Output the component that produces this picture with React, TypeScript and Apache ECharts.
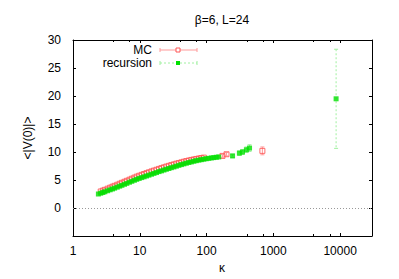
import React, { useEffect, useRef } from "react";
import * as echarts from "echarts";

const titleText = "β=6, L=24";
const yLabel = "<|V(0)|>";
const xLabel = "κ";
const legendNames = ["MC", "recursion"];

// MC (dense part, errors below visible size)
const mcK = [2.6, 2.8, 3.0, 3.3, 3.6, 3.9, 4.2, 4.6, 5.0, 5.4, 5.9, 6.4, 7.0, 7.6, 8.3, 9.0, 9.8, 10.7, 11.6, 12.6, 13.7, 15.0, 16.3, 17.8, 19.4, 21.1, 23.0, 25.0, 27.3, 29.7, 32.4, 35.3, 38.5, 42.0, 45.7, 49.8, 54.3, 59.2, 64.5, 70.3, 76.6, 83.5, 91.0];
const mcV = [2.95, 3.1, 3.25, 3.45, 3.63, 3.8, 3.96, 4.15, 4.33, 4.5, 4.68, 4.86, 5.05, 5.23, 5.42, 5.6, 5.76, 5.92, 6.07, 6.22, 6.37, 6.53, 6.68, 6.83, 6.98, 7.12, 7.26, 7.4, 7.53, 7.66, 7.79, 7.92, 8.04, 8.15, 8.27, 8.38, 8.48, 8.58, 8.67, 8.76, 8.84, 8.92, 9.0];
// MC (sparse tail with visible error bars)
const mcTailK = [173, 199, 685];
const mcTailV = [9.3, 9.6, 10.2];
const mcTailErr = [0.25, 0.3, 0.7];

// recursion (dense part)
const recK = [2.4, 2.6, 2.8, 3.0, 3.3, 3.6, 3.9, 4.2, 4.6, 5.0, 5.4, 5.9, 6.4, 7.0, 7.6, 8.3, 9.0, 9.8, 10.7, 11.6, 12.6, 13.7, 15.0, 16.3, 17.8, 19.4, 21.1, 23.0, 25.0, 27.3, 29.7, 32.4, 35.3, 38.5, 42.0, 45.7, 49.8, 54.3, 59.2, 64.5, 70.3, 76.6, 83.5, 91.0, 99.2, 108, 118, 128, 140, 152];
const recV = [2.5, 2.64, 2.77, 2.9, 3.08, 3.25, 3.4, 3.55, 3.72, 3.9, 4.05, 4.23, 4.4, 4.6, 4.77, 4.95, 5.12, 5.28, 5.43, 5.57, 5.72, 5.87, 6.03, 6.18, 6.33, 6.5, 6.63, 6.78, 6.92, 7.05, 7.2, 7.33, 7.47, 7.62, 7.75, 7.88, 8.0, 8.12, 8.23, 8.35, 8.45, 8.55, 8.63, 8.72, 8.8, 8.87, 8.94, 9.0, 9.06, 9.12];
// recursion (sparse tail)
const recTailK = [245, 310, 345, 395, 440, 8700];
const recTailV = [9.3, 9.8, 10.0, 10.4, 10.7, 19.5];
const recTailErr = [0.3, 0.4, 0.45, 0.5, 0.6, 8.85];

const yTicks = [-5, 0, 5, 10, 15, 20, 25, 30];

const RED = "#ff5555";
const RED_ERR = "#ff9a9a";
const GREEN = "#00e000";
const GREEN_ERR = "#a0f0a0";
const FONT = "Liberation Sans, Arial, sans-serif";

function errorBarRenderer(color: string, dashed: boolean) {
  return (params: any, api: any) => {
    const x = api.value(0);
    const y = api.value(1);
    const e = api.value(2);
    const hi = api.coord([x, y + e]);
    const lo = api.coord([x, y - e]);
    const style = { stroke: color, lineWidth: 1, lineDash: dashed ? [2, 2] : null };
    return {
      type: "group",
      children: [
        { type: "line", shape: { x1: hi[0], y1: hi[1], x2: lo[0], y2: lo[1] }, style },
        { type: "line", shape: { x1: hi[0] - 2, y1: hi[1], x2: hi[0] + 2, y2: hi[1] }, style: { stroke: color, lineWidth: 1 } },
        { type: "line", shape: { x1: lo[0] - 2, y1: lo[1], x2: lo[0] + 2, y2: lo[1] }, style: { stroke: color, lineWidth: 1 } },
      ],
    };
  };
}

export default function App() {
  const ref = useRef<HTMLDivElement>(null);
  useEffect(() => {
    if (!ref.current) return;
    const chart = echarts.init(ref.current, null, { renderer: "svg" });
    const mcDense = mcK.map((k, i) => [k, mcV[i]]);
    const mcTail = mcTailK.map((k, i) => [k, mcTailV[i], mcTailErr[i]]);
    const recDense = recK.map((k, i) => [k, recV[i]]);
    const recTail = recTailK.map((k, i) => [k, recTailV[i], recTailErr[i]]);

    const gl = { left: 73, top: 40, width: 299, height: 196 };
    const xBase = {
      type: "log",
      logBase: 10,
      min: 1,
      max: 30000,
      gridIndex: 0,
      splitLine: { show: false },
      axisLine: { show: true, onZero: false, lineStyle: { color: "#000", width: 1 } },
      axisTick: { show: true, inside: true, length: 3, lineStyle: { color: "#000" } },
      minorTick: { show: true, splitNumber: 3, length: 2, lineStyle: { color: "#000" } },
    };
    const yBase = {
      type: "value",
      min: -5,
      max: 30,
      interval: 5,
      splitLine: { show: false },
      axisLine: { show: true, onZero: false, lineStyle: { color: "#000", width: 1 } },
      axisTick: { show: true, inside: true, length: 3, lineStyle: { color: "#000" } },
    };

    chart.setOption({
      animation: false,
      backgroundColor: "#fff",
      textStyle: { fontFamily: FONT },
      grid: { ...gl, containLabel: false },
      xAxis: [
        {
          ...xBase,
          position: "bottom",
          axisLabel: {
            show: true,
            color: "#000",
            fontSize: 12,
            fontFamily: FONT,
            margin: 9,
            showMaxLabel: false,
            formatter: (v: number) => String(Math.round(v)),
          },
        },
        { ...xBase, position: "top", axisLabel: { show: false } },
      ],
      yAxis: [
        {
          ...yBase,
          position: "left",
          axisLabel: {
            show: true,
            color: "#000",
            fontSize: 12,
            fontFamily: FONT,
            margin: 12,
            formatter: (v: number) => (yTicks.indexOf(v) > 0 ? String(v) : ""),
          },
        },
        { ...yBase, position: "right", axisLabel: { show: false } },
      ],
      series: [
        {
          type: "line",
          data: [],
          markLine: {
            silent: true,
            symbol: "none",
            label: { show: false },
            lineStyle: { color: "#999", type: [1, 2], width: 1 },
            data: [{ yAxis: 0 }],
          },
        },
        {
          type: "custom",
          renderItem: errorBarRenderer(RED_ERR, false),
          data: mcTail,
          encode: { x: 0, y: 1 },
          z: 1,
        },
        {
          type: "custom",
          renderItem: errorBarRenderer(GREEN_ERR, true),
          data: recTail,
          encode: { x: 0, y: 1 },
          z: 1,
        },
        {
          type: "scatter",
          name: legendNames[0],
          symbol: "rect",
          symbolSize: 5,
          itemStyle: { color: "rgba(255,255,255,0)", borderColor: RED, borderWidth: 1, opacity: 0.85 },
          data: [...mcDense, ...mcTail.map((d) => [d[0], d[1]])],
          z: 3,
        },
        {
          type: "scatter",
          name: legendNames[1],
          symbol: "rect",
          symbolSize: 5,
          itemStyle: { color: GREEN },
          data: [...recDense, ...recTail.map((d) => [d[0], d[1]])],
          z: 4,
        },
      ],
      graphic: [
        {
          type: "text",
          x: 222,
          y: 20,
          style: { text: titleText, fill: "#000", font: `12px ${FONT}`, textAlign: "center", textVerticalAlign: "middle" },
        },
        {
          type: "text",
          x: 28,
          y: 138,
          rotation: Math.PI / 2,
          style: { text: yLabel, fill: "#000", font: `12px ${FONT}`, textAlign: "center", textVerticalAlign: "middle" },
        },
        {
          type: "text",
          x: 222,
          y: 268,
          style: { text: xLabel, fill: "#000", font: `12px ${FONT}`, textAlign: "center", textVerticalAlign: "middle" },
        },
        // legend: MC
        {
          type: "text",
          x: 152,
          y: 50,
          style: { text: legendNames[0], fill: "#000", font: `12px ${FONT}`, textAlign: "right", textVerticalAlign: "middle" },
        },
        { type: "line", shape: { x1: 160, y1: 50, x2: 197, y2: 50 }, style: { stroke: RED_ERR, lineWidth: 1 } },
        { type: "line", shape: { x1: 160, y1: 48, x2: 160, y2: 52 }, style: { stroke: RED_ERR, lineWidth: 1 } },
        { type: "line", shape: { x1: 197, y1: 48, x2: 197, y2: 52 }, style: { stroke: RED_ERR, lineWidth: 1 } },
        { type: "rect", shape: { x: 176, y: 48, width: 4, height: 4 }, style: { fill: "#fff", stroke: RED, lineWidth: 1 } },
        // legend: recursion
        {
          type: "text",
          x: 152,
          y: 63,
          style: { text: legendNames[1], fill: "#000", font: `12px ${FONT}`, textAlign: "right", textVerticalAlign: "middle" },
        },
        { type: "line", shape: { x1: 160, y1: 63, x2: 197, y2: 63 }, style: { stroke: GREEN_ERR, lineWidth: 1, lineDash: [2, 2] } },
        { type: "line", shape: { x1: 160, y1: 61, x2: 160, y2: 65 }, style: { stroke: GREEN_ERR, lineWidth: 1 } },
        { type: "line", shape: { x1: 197, y1: 61, x2: 197, y2: 65 }, style: { stroke: GREEN_ERR, lineWidth: 1 } },
        { type: "rect", shape: { x: 176, y: 61, width: 4, height: 4 }, style: { fill: GREEN } },
      ],
    });
    return () => chart.dispose();
  }, []);
  return <div ref={ref} style={{ width: 399, height: 279, position: "fixed", left: 0, top: 0 }} />;
}
